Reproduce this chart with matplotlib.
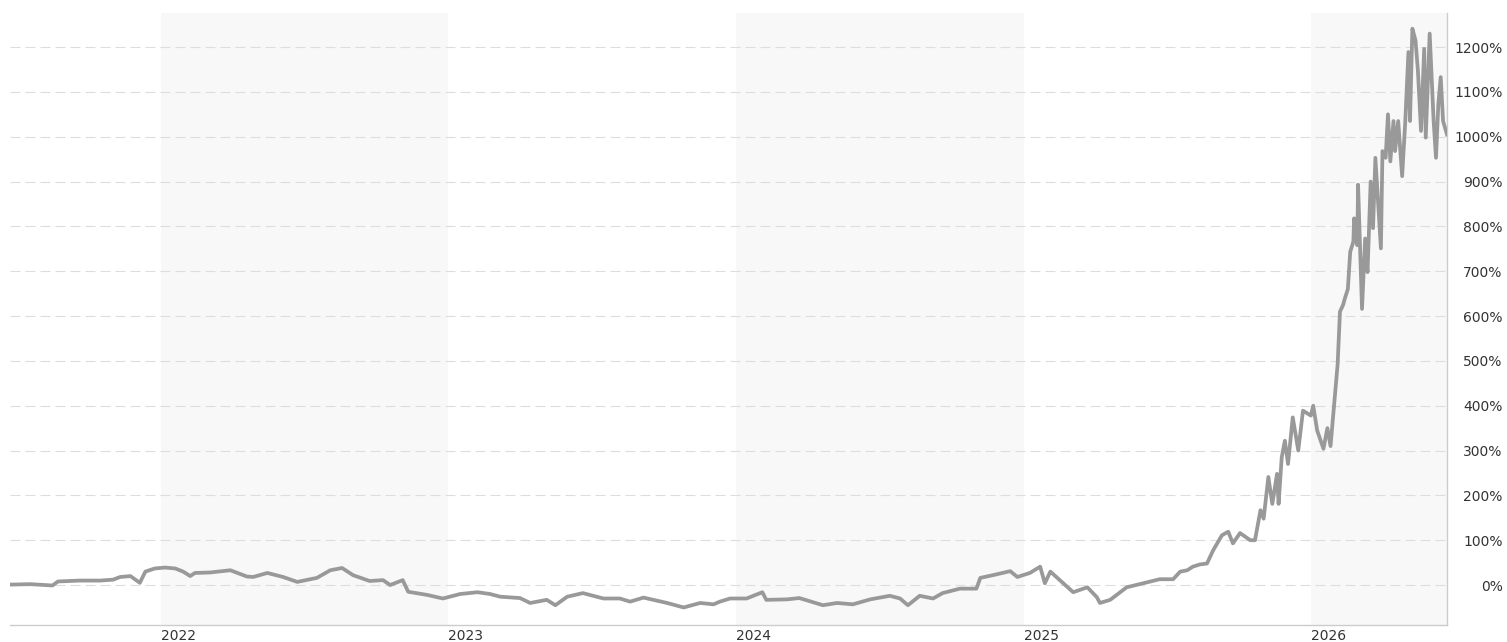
import matplotlib
matplotlib.use("Agg")
import matplotlib.pyplot as plt
import matplotlib.dates as mdates
import numpy as np
import pandas as pd

dates = [
    "2021-06-23", "2021-07-19", "2021-08-16", "2021-08-23", "2021-09-20", "2021-10-16",
    "2021-11-01", "2021-11-10", "2021-11-23", "2021-12-05", "2021-12-12", "2021-12-24",
    "2022-01-06", "2022-01-19", "2022-01-29", "2022-02-07", "2022-02-13", "2022-03-04",
    "2022-03-30", "2022-04-20", "2022-04-28", "2022-05-16", "2022-06-05", "2022-06-23",
    "2022-07-18", "2022-08-04", "2022-08-19", "2022-09-02", "2022-09-23", "2022-10-10",
    "2022-10-19", "2022-11-04", "2022-11-11", "2022-12-05", "2022-12-25",
    "2023-01-16", "2023-02-07", "2023-02-23", "2023-03-08", "2023-04-02", "2023-04-15",
    "2023-05-06", "2023-05-17", "2023-06-01", "2023-06-21", "2023-07-17", "2023-08-07",
    "2023-08-20", "2023-09-06", "2023-10-06", "2023-10-27", "2023-11-17", "2023-12-04",
    "2023-12-12", "2023-12-25",
    "2024-01-15", "2024-02-04", "2024-02-09", "2024-03-06", "2024-03-22", "2024-04-21",
    "2024-05-09", "2024-05-29", "2024-06-20", "2024-07-15", "2024-07-28", "2024-08-07",
    "2024-08-22", "2024-09-08", "2024-09-20", "2024-10-12", "2024-10-22", "2024-11-02",
    "2024-11-07", "2024-11-23", "2024-12-15", "2024-12-24",
    "2025-01-09", "2025-01-22", "2025-01-28", "2025-02-04", "2025-02-16", "2025-03-05",
    "2025-03-23", "2025-04-04", "2025-04-08", "2025-04-21", "2025-05-12", "2025-06-07",
    "2025-06-23", "2025-07-10", "2025-07-19", "2025-07-28", "2025-08-04", "2025-08-13",
    "2025-08-22", "2025-08-30", "2025-09-10", "2025-09-18", "2025-09-24", "2025-10-03",
    "2025-10-16", "2025-10-22", "2025-10-29", "2025-11-02", "2025-11-08", "2025-11-13",
    "2025-11-19", "2025-11-21", "2025-11-25", "2025-11-29", "2025-12-03", "2025-12-09",
    "2025-12-16", "2025-12-22", "2026-01-01",
    "2026-01-04", "2026-01-09", "2026-01-17", "2026-01-22", "2026-01-26", "2026-01-30",
    "2026-02-04", "2026-02-07", "2026-02-11", "2026-02-13", "2026-02-17", "2026-02-20",
    "2026-02-24", "2026-02-25", "2026-03-01", "2026-03-02", "2026-03-07", "2026-03-11",
    "2026-03-14", "2026-03-18", "2026-03-21", "2026-03-24", "2026-03-31", "2026-04-02",
    "2026-04-06", "2026-04-09", "2026-04-12", "2026-04-16", "2026-04-18", "2026-04-22",
    "2026-04-27", "2026-05-01", "2026-05-05", "2026-05-07", "2026-05-10", "2026-05-14",
    "2026-05-17", "2026-05-21", "2026-05-25", "2026-05-27", "2026-06-01", "2026-06-06",
    "2026-06-09", "2026-06-12", "2026-06-15", "2026-06-18", "2026-06-23",
]

returns_pct = [
    1, 2, -1, 8, 10, 10,
    12, 18, 20, 5, 30, 37,
    39, 37, 30, 20, 27, 28,
    33, 19, 18, 27, 18, 7,
    16, 33, 38, 22, 9, 11,
    0, 11, -15, -22, -30,
    -20, -16, -20, -26, -29, -40,
    -33, -45, -26, -18, -30, -30,
    -37, -28, -40, -50, -40, -43,
    -37, -30,
    -30, -16, -33, -32, -29, -45,
    -40, -43, -32, -24, -30, -45,
    -24, -30, -18, -8, -8, -8,
    16, 22, 31, 18,
    27, 41, 4, 30, 11, -16,
    -5, -27, -40, -33, -5, 6,
    13, 13, 30, 33, 41, 46,
    48, 78, 111, 119, 93, 116,
    100, 100, 167, 148, 241, 181,
    248, 181, 285, 322, 270, 374,
    300, 389, 378,
    400, 345, 304, 350, 310, 390,
    492, 610, 625, 638, 660, 743,
    766, 818, 758, 893, 616, 773,
    698, 900, 796, 953, 751, 968,
    953, 1050, 945, 1035, 968, 1035,
    912, 1035, 1189, 1035, 1241, 1215,
    1148, 1013, 1196, 998, 1230, 1035,
    953, 1073, 1133, 1035, 1005,
]

y_ticks = [0, 100, 200, 300, 400, 500, 600, 700, 800, 900, 1000, 1100, 1200]
year_labels = ["2022", "2023", "2024", "2025", "2026"]
shaded_years = ["2022", "2024", "2026"]

x = pd.to_datetime(dates)
y = np.array(returns_pct, dtype=float)

W, H = 1507, 642
fig = plt.figure(figsize=(W / 100, H / 100), dpi=100)
ax = fig.add_axes([10 / W, 1 - 624.5 / H, (1447 - 10) / W, (624.5 - 13) / H])

x_start = pd.Timestamp("2021-06-23")
x_end = pd.Timestamp("2026-06-23")
ax.set_xlim(x_start, x_end)
ax.set_ylim(-88, 1276)

for yr in shaded_years:
    s = pd.Timestamp(f"{yr}-01-01")
    e = min(pd.Timestamp(f"{int(yr) + 1}-01-01"), x_end)
    ax.axvspan(s, e, color="#f8f8f8", lw=0, zorder=0)

for t in y_ticks:
    ax.axhline(t, color="#dddddd", lw=0.8, linestyle=(0, (9, 4.5)), zorder=1)

ax.plot(x, y, color="#999999", lw=2.7, solid_joinstyle="round", zorder=3)

ax.yaxis.tick_right()
ax.set_yticks(y_ticks)
ax.set_yticklabels([f"{t}%" for t in y_ticks])
ax.tick_params(axis="y", length=0, pad=40, labelsize=10, labelcolor="#333333")
for lab in ax.get_yticklabels():
    lab.set_horizontalalignment("right")

ax.set_xticks([pd.Timestamp(f"{yl}-01-01") for yl in year_labels])
ax.set_xticklabels(year_labels)
ax.tick_params(axis="x", length=0, pad=3, labelsize=10, labelcolor="#333333")
for lab in ax.get_xticklabels():
    lab.set_horizontalalignment("left")

for side in ["top", "left"]:
    ax.spines[side].set_visible(False)
ax.spines["bottom"].set_color("#cccccc")
ax.spines["right"].set_color("#cccccc")
ax.spines["bottom"].set_linewidth(1)
ax.spines["right"].set_linewidth(1)
ax.set_facecolor("white")

fig.savefig("out.png", dpi=100, facecolor="white")
